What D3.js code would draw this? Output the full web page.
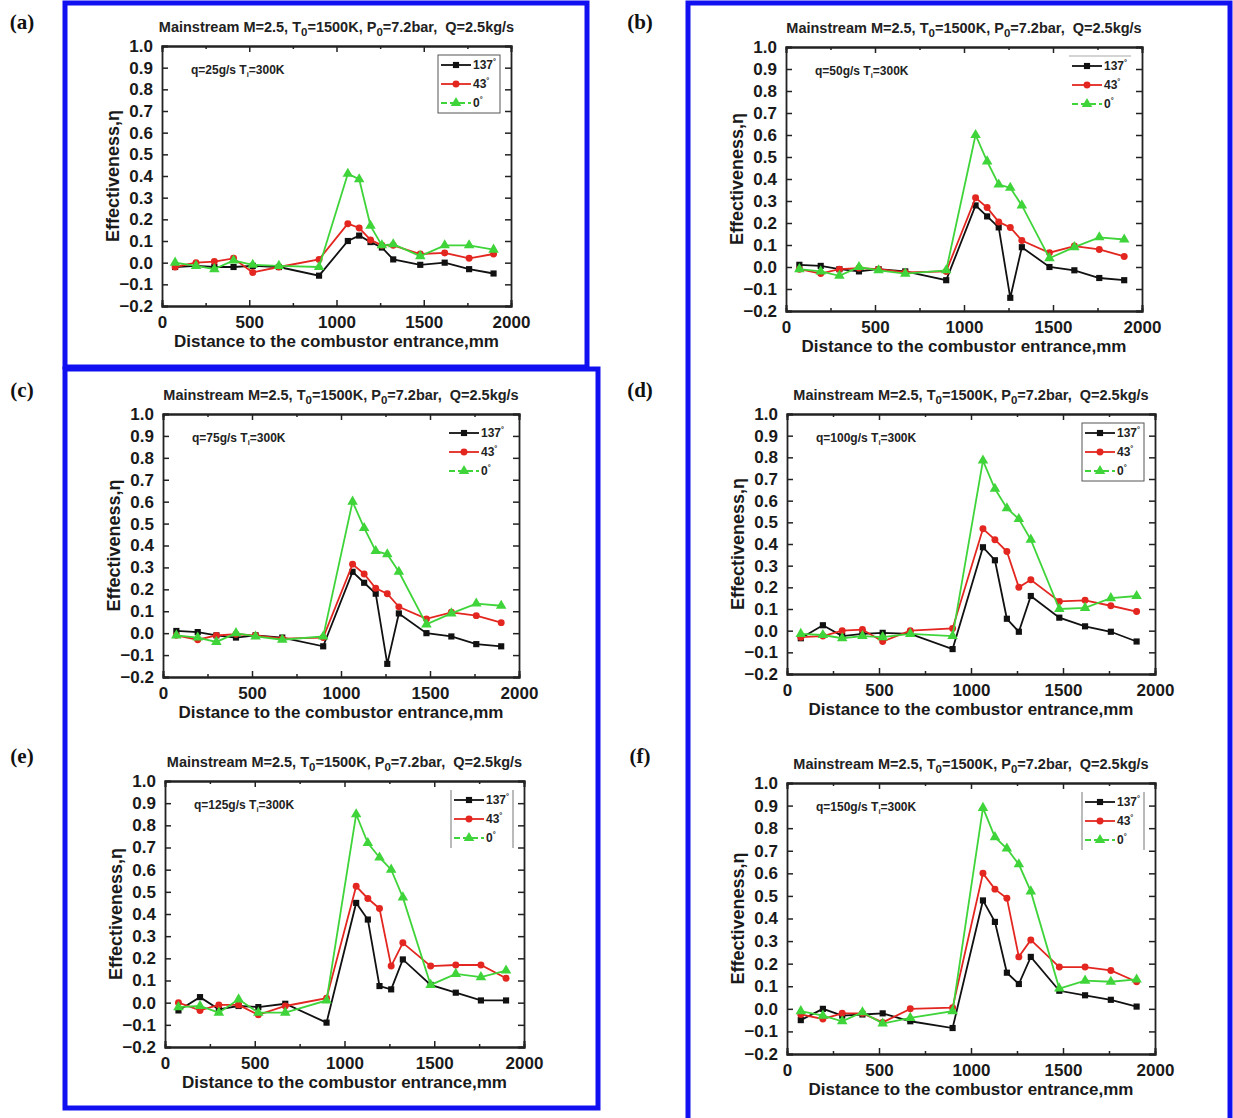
<!DOCTYPE html>
<html><head><meta charset="utf-8">
<script src="https://cdn.jsdelivr.net/npm/d3@7"></script>
<style>body{margin:0;background:#fff} svg{display:block}</style>
</head><body>
<svg id="c" width="1233" height="1118"></svg>
<script>
// ---------- data ----------
const distances = [75,195,300,410,520,670,900,1065,1130,1195,1260,1325,1480,1620,1760,1900];
const angleLabels = ["137", "43", "0"];
const flowRates = ["25", "50", "75", "100", "125", "150"];
const panelLetters = ["(a)", "(b)", "(c)", "(d)", "(e)", "(f)"];
const yTickValues = [-0.2,-0.1,0.0,0.1,0.2,0.3,0.4,0.5,0.6,0.7,0.8,0.9,1.0];
const xTickValues = [0,500,1000,1500,2000];
const xMinorTicks = [250,750,1250,1750];

const eta137_q25 = [-0.02,-0.015,-0.02,-0.02,-0.015,-0.02,-0.06,0.10,0.125,0.095,0.07,0.015,-0.01,0.0,-0.03,-0.05];
const eta43_q25  = [-0.02,0.0,0.005,0.02,-0.045,-0.02,0.015,0.18,0.16,0.105,0.08,0.08,0.04,0.045,0.02,0.04];
const eta0_q25   = [0.0,-0.015,-0.03,0.01,-0.01,-0.015,-0.02,0.41,0.385,0.17,0.08,0.085,0.03,0.08,0.08,0.06];

const eta137_q50 = [0.01,0.005,-0.01,-0.02,-0.01,-0.02,-0.06,0.28,0.23,0.18,-0.14,0.09,0.0,-0.015,-0.05,-0.06];
const eta43_q50  = [-0.01,-0.03,-0.01,-0.005,-0.01,-0.025,-0.02,0.315,0.27,0.205,0.18,0.12,0.065,0.095,0.08,0.048];
const eta0_q50   = [-0.01,-0.02,-0.04,0.0,-0.015,-0.03,-0.015,0.60,0.48,0.375,0.36,0.28,0.04,0.09,0.135,0.125];

const eta137_q75 = [0.01,0.005,-0.01,-0.02,-0.01,-0.02,-0.06,0.28,0.23,0.18,-0.14,0.09,0.0,-0.015,-0.05,-0.06];
const eta43_q75  = [-0.01,-0.03,-0.01,-0.005,-0.01,-0.025,-0.02,0.315,0.27,0.205,0.18,0.12,0.065,0.095,0.08,0.048];
const eta0_q75   = [-0.01,-0.02,-0.04,0.0,-0.015,-0.03,-0.015,0.60,0.48,0.375,0.36,0.28,0.04,0.09,0.135,0.125];

const eta137_q100 = [-0.035,0.025,-0.025,-0.015,-0.01,-0.015,-0.085,0.385,0.325,0.055,-0.005,0.16,0.06,0.02,-0.005,-0.05];
const eta43_q100  = [-0.03,-0.025,0.0,0.005,-0.05,0.0,0.01,0.47,0.42,0.365,0.20,0.235,0.135,0.14,0.115,0.088];
const eta0_q100   = [-0.015,-0.02,-0.035,-0.025,-0.03,-0.015,-0.025,0.785,0.655,0.565,0.515,0.42,0.10,0.105,0.15,0.16];

const eta137_q125 = [-0.035,0.025,-0.03,-0.015,-0.02,-0.005,-0.09,0.45,0.375,0.075,0.06,0.195,0.08,0.045,0.01,0.01];
const eta43_q125  = [0.0,-0.035,-0.01,-0.01,-0.055,-0.015,0.02,0.525,0.47,0.425,0.165,0.27,0.165,0.17,0.17,0.11];
const eta0_q125   = [-0.02,-0.015,-0.045,0.015,-0.045,-0.045,0.01,0.85,0.72,0.655,0.60,0.475,0.08,0.13,0.115,0.145];

const eta137_q150 = [-0.05,0.0,-0.03,-0.025,-0.02,-0.055,-0.085,0.48,0.385,0.16,0.11,0.23,0.08,0.06,0.04,0.01];
const eta43_q150  = [-0.025,-0.045,-0.02,-0.02,-0.06,0.0,0.005,0.60,0.53,0.49,0.23,0.305,0.185,0.185,0.17,0.12];
const eta0_q150   = [-0.01,-0.03,-0.055,-0.015,-0.065,-0.04,-0.01,0.89,0.76,0.71,0.64,0.52,0.09,0.125,0.12,0.13];

const seriesByPanel = [
  [eta137_q25, eta43_q25, eta0_q25],
  [eta137_q50, eta43_q50, eta0_q50],
  [eta137_q75, eta43_q75, eta0_q75],
  [eta137_q100, eta43_q100, eta0_q100],
  [eta137_q125, eta43_q125, eta0_q125],
  [eta137_q150, eta43_q150, eta0_q150]
];

// ---------- layout / style ----------
const colors = ["#111111", "#e3261f", "#3fd43a"];
const symbols = [d3.symbolSquare, d3.symbolCircle, d3.symbolTriangle];
const symSizes = [38, 38, 48];
const layout = [
  {x0:162, x1:511, y0:46, y1:306, lx:22,  ly:22,  legendFrame:"box"},
  {x0:786, x1:1142, y0:47, y1:311, lx:640, ly:22, legendFrame:"top"},
  {x0:163, x1:519, y0:414, y1:677, lx:22,  ly:390, legendFrame:"none"},
  {x0:787, x1:1155, y0:414, y1:674, lx:640, ly:390, legendFrame:"box"},
  {x0:165, x1:524, y0:781, y1:1047, lx:22, ly:756, legendFrame:"sides"},
  {x0:787, x1:1155, y0:783, y1:1054, lx:640, ly:756, legendFrame:"sides"}
];
const FONT = "Arial, 'Liberation Sans', Helvetica, sans-serif";
const svg = d3.select("#c").style("font-family", FONT);
svg.append("rect").attr("width",1233).attr("height",1118).attr("fill","#fff");

// blue frames
const blue = "#1010f0";
const frames = [[65,3,587,367],[65,369,598,1108],[688,3,1230,1130]];
frames.forEach(f => svg.append("rect").attr("x",f[0]).attr("y",f[1]).attr("width",f[2]-f[0]).attr("height",f[3]-f[1])
  .attr("fill","none").attr("stroke",blue).attr("stroke-width",5));

layout.forEach((L, pi) => {
  const g = svg.append("g");
  const x = d3.scaleLinear().domain([0,2000]).range([L.x0, L.x1]);
  const y = d3.scaleLinear().domain([-0.2,1.0]).range([L.y1, L.y0]);

  // panel letter
  svg.append("text").attr("x",L.lx).attr("y",L.ly+7).attr("text-anchor","middle")
    .attr("font-family","'Liberation Serif','Times New Roman',serif").attr("font-weight","bold")
    .attr("font-size",21).attr("fill","#111").text(panelLetters[pi]);

  // title
  const t = g.append("text").attr("x",(L.x0+L.x1)/2).attr("y",L.y0-14).attr("text-anchor","middle")
    .attr("font-size",14.5).attr("font-weight","bold").attr("fill","#222");
  t.append("tspan").text("Mainstream M=2.5, T");
  t.append("tspan").attr("font-size",11.5).attr("dy",4).text("0");
  t.append("tspan").attr("dy",-4).text("=1500K, P");
  t.append("tspan").attr("font-size",11.5).attr("dy",4).text("0");
  t.append("tspan").attr("dy",-4).text("=7.2bar,\u00a0 Q=2.5kg/s");

  // axes
  const axB = d3.axisBottom(x).tickValues(xTickValues).tickSize(-6).tickPadding(10).tickFormat(d3.format("d"));
  const axT = d3.axisTop(x).tickValues(xTickValues).tickSize(-6).tickFormat("");
  const axL = d3.axisLeft(y).tickValues(yTickValues).tickSize(-6).tickPadding(9).tickFormat(d3.format(".1f"));
  const axR = d3.axisRight(y).tickValues(yTickValues).tickSize(-6).tickFormat("");
  const mB = d3.axisBottom(x).tickValues(xMinorTicks).tickSize(-3).tickFormat("");
  const mT = d3.axisTop(x).tickValues(xMinorTicks).tickSize(-3).tickFormat("");
  [[axB,"translate(0,"+L.y1+")"],[axT,"translate(0,"+L.y0+")"],[axL,"translate("+L.x0+",0)"],[axR,"translate("+L.x1+",0)"],
   [mB,"translate(0,"+L.y1+")"],[mT,"translate(0,"+L.y0+")"]].forEach(([ax,tr]) => {
    const a = g.append("g").attr("transform",tr).call(ax);
    a.select(".domain").attr("stroke","#222").attr("stroke-width",1.8);
    a.selectAll(".tick line").attr("stroke","#222").attr("stroke-width",1.5);
    a.selectAll(".tick text").attr("font-size",17).attr("font-weight","bold").attr("fill","#1a1a1a").attr("font-family",FONT);
  });

  // axis titles
  g.append("text").attr("x",(L.x0+L.x1)/2).attr("y",L.y1+41).attr("text-anchor","middle")
    .attr("font-size",17).attr("font-weight","bold").attr("fill","#1a1a1a").text("Distance to the combustor entrance,mm");
  g.append("text").attr("transform","translate("+(L.x0-43)+","+((L.y0+L.y1)/2)+") rotate(-90)")
    .attr("text-anchor","middle").attr("font-size",18).attr("font-weight","bold").attr("fill","#1a1a1a")
    .text("Effectiveness,\u03b7");

  // inside label
  const ql = g.append("text").attr("x",L.x0+29).attr("y",L.y0+28).attr("font-size",12).attr("font-weight","bold").attr("fill","#222");
  ql.append("tspan").text("q="+flowRates[pi]+"g/s T");
  ql.append("tspan").attr("font-size",7.5).attr("dy",3).text("i");
  ql.append("tspan").attr("dy",-3).text("=300K");

  // series
  const series = seriesByPanel[pi];
  series.forEach((vals, si) => {
    const pts = distances.map((d,i)=>[d, vals[i]]);
    g.append("path").attr("d", d3.line().x(p=>x(p[0])).y(p=>y(p[1]))(pts))
      .attr("fill","none").attr("stroke",colors[si]).attr("stroke-width",1.8);
    g.selectAll(null).data(pts).enter().append("path")
      .attr("transform",p=>"translate("+x(p[0])+","+y(p[1])+")")
      .attr("d", d3.symbol().type(symbols[si]).size(symSizes[si])())
      .attr("fill",colors[si]);
  });

  // legend
  const lg = g.append("g");
  const lx0 = L.x1 - 70, lx1 = L.x1 - 40, ltx = L.x1 - 38;
  const bx0 = L.x1 - 73, bx1 = L.x1 - 11, by0 = L.y0 + 9, by1 = L.y0 + 67;
  if (L.legendFrame === "box") {
    lg.append("rect").attr("x",bx0).attr("y",by0).attr("width",bx1-bx0).attr("height",by1-by0)
      .attr("fill","none").attr("stroke","#555").attr("stroke-width",1);
  } else if (L.legendFrame === "top") {
    lg.append("line").attr("x1",bx0).attr("x2",bx1).attr("y1",by0).attr("y2",by0).attr("stroke","#aaa").attr("stroke-width",1.2);
  } else if (L.legendFrame === "sides") {
    [bx0,bx1].forEach(xx=>lg.append("line").attr("x1",xx).attr("x2",xx).attr("y1",by0).attr("y2",by1).attr("stroke","#777").attr("stroke-width",1));
  }
  angleLabels.forEach((lab, si) => {
    const yy = L.y0 + 19 + si*19;
    lg.append("line").attr("x1",lx0).attr("x2",lx1).attr("y1",yy).attr("y2",yy)
      .attr("stroke",colors[si]).attr("stroke-width",1.8).attr("stroke-dasharray", si===2 ? "6,3" : null);
    lg.append("path").attr("transform","translate("+((lx0+lx1)/2)+","+yy+")")
      .attr("d", d3.symbol().type(symbols[si]).size(symSizes[si])()).attr("fill",colors[si]);
    const tt = lg.append("text").attr("x",ltx).attr("y",yy+4).attr("font-size",12).attr("font-weight","bold").attr("fill","#222");
    tt.append("tspan").text(lab);
    tt.append("tspan").attr("font-size",7.5).attr("dy",-5).text("\u00b0");
  });
});
</script>
</body></html>
